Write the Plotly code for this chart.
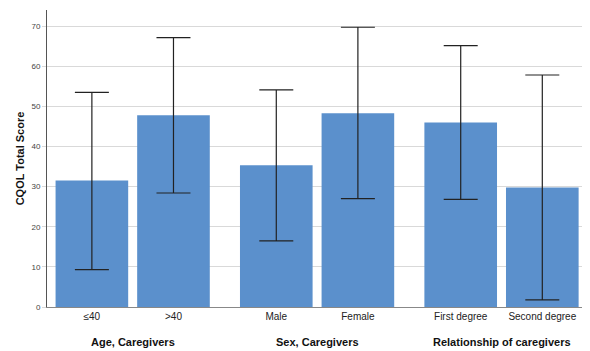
import plotly.graph_objects as go

groups = ["Age, Caregivers", "Sex, Caregivers", "Relationship of caregivers"]
categories = ["≤40", ">40", "Male", "Female", "First degree", "Second degree"]
group_of = [0, 0, 1, 1, 2, 2]
means = [31.5, 47.8, 35.3, 48.3, 46.0, 29.8]
upper = [53.5, 67.1, 54.1, 69.7, 65.1, 57.8]
lower = [9.3, 28.4, 16.5, 27.0, 26.8, 1.8]

GAP = 0.26
xpos = [i + g * GAP for i, g in enumerate(group_of)]
err_plus = [u - m for u, m in zip(upper, means)]
err_minus = [m - l for m, l in zip(means, lower)]

fig = go.Figure()
fig.add_trace(go.Bar(
    x=xpos, y=means, width=0.89,
    marker=dict(color="#5b90cc", line=dict(width=0)),
    error_y=dict(type="data", symmetric=False, array=err_plus, arrayminus=err_minus,
                 color="#222222", thickness=1.2, width=17),
    showlegend=False,
))

for g, name in enumerate(groups):
    xs = [x for x, gg in zip(xpos, group_of) if gg == g]
    fig.add_annotation(x=sum(xs) / len(xs), y=-0.118, xref="x", yref="paper",
                       text="<b>" + name + "</b>", showarrow=False,
                       font=dict(family="Liberation Sans, Arial", size=11, color="#111111"),
                       yanchor="middle")

# page body adds an 8px offset; figure sized to fit the 590x351 window
fig.update_layout(
    width=582, height=343,
    margin=dict(l=39, r=2, t=2, b=44),
    plot_bgcolor="white", paper_bgcolor="white",
    xaxis=dict(range=[-0.55, xpos[-1] + 0.56], tickvals=xpos, ticktext=categories,
               showgrid=False, zeroline=False, showline=True, linecolor="#888888",
               linewidth=1, ticks="", tickfont=dict(family="Liberation Sans, Arial", size=10, color="#222222")),
    yaxis=dict(range=[0, 74], tickvals=[0, 10, 20, 30, 40, 50, 60, 70],
               showgrid=True, gridcolor="#d9d9d9", gridwidth=1, zeroline=False,
               showline=True, linecolor="#555555", linewidth=1,
               ticks="outside", ticklen=4, tickcolor="#d9d9d9",
               tickfont=dict(family="Liberation Sans, Arial", size=8, color="#444444"),
               title=dict(text="<b>CQOL Total Score</b>", standoff=4,
                          font=dict(family="Liberation Sans, Arial", size=11, color="#111111"))),
)

fig.write_html("out.html")
